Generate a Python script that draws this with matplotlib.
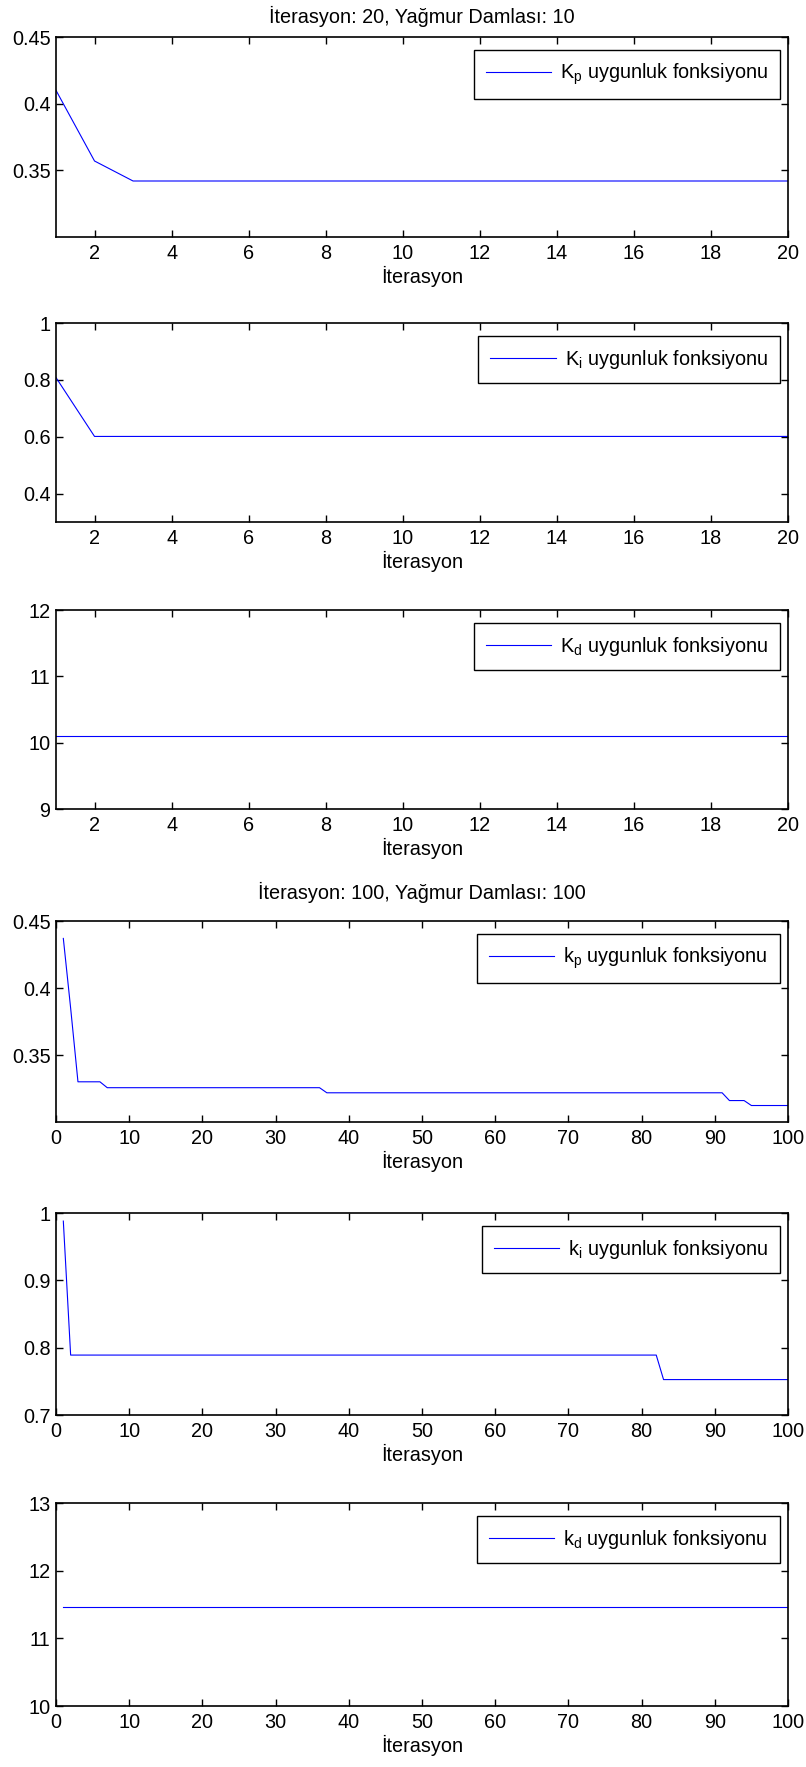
import matplotlib.pyplot as plt
from matplotlib.ticker import FormatStrFormatter

plt.rcParams['font.family'] = ['Liberation Sans', 'DejaVu Sans']
plt.rcParams['mathtext.default'] = 'regular'
plt.rcParams['font.size'] = 14.3

# Iterasyon 20, yagmur damlasi 10 (degerin degistigi noktalar)
x_kp20 = [1, 2, 3, 20]
y_kp20 = [0.410, 0.357, 0.342, 0.342]
x_ki20 = [1, 2, 20]
y_ki20 = [0.808, 0.601, 0.601]
x_kd20 = [1, 20]
y_kd20 = [10.1, 10.1]

# Iterasyon 100, yagmur damlasi 100
x_kp100 = [1, 2, 3, 6, 7, 36, 37, 91, 92, 94, 95, 100]
y_kp100 = [0.437, 0.385, 0.330, 0.330, 0.3256, 0.3256, 0.3218, 0.3218,
           0.316, 0.316, 0.3123, 0.3123]
x_ki100 = [1, 2, 82, 83, 100]
y_ki100 = [0.988, 0.789, 0.789, 0.7526, 0.7526]
x_kd100 = [1, 100]
y_kd100 = [11.47, 11.47]

etiketler = ['K$_p$ uygunluk fonksiyonu', 'K$_i$ uygunluk fonksiyonu',
             'K$_d$ uygunluk fonksiyonu', 'k$_p$ uygunluk fonksiyonu',
             'k$_i$ uygunluk fonksiyonu', 'k$_d$ uygunluk fonksiyonu']
basliklar = ['İterasyon: 20, Yağmur Damlası: 10',
             'İterasyon: 100, Yağmur Damlası: 100']

W, H = 806, 1767
fig = plt.figure(figsize=(W / 100, H / 100), dpi=100)

# eksen kutulari (piksel: ust, alt)
kutular = [(37, 237), (323, 522), (610, 809), (921, 1122), (1213, 1415), (1503, 1706)]
sol, sag = 56, 788

veriler = [(x_kp20, y_kp20), (x_ki20, y_ki20), (x_kd20, y_kd20),
           (x_kp100, y_kp100), (x_ki100, y_ki100), (x_kd100, y_kd100)]
ylimler = [(0.30, 0.45), (0.3, 1.0), (9, 12), (0.30, 0.45), (0.7, 1.0), (10, 13)]
yticks = [[0.35, 0.4, 0.45], [0.4, 0.6, 0.8, 1], [9, 10, 11, 12],
          [0.35, 0.4, 0.45], [0.7, 0.8, 0.9, 1], [10, 11, 12, 13]]

for i, ((ust, alt), (xs, ys)) in enumerate(zip(kutular, veriler)):
    ax = fig.add_axes([sol / W, 1 - alt / H, (sag - sol) / W, (alt - ust) / H])
    ax.plot(xs, ys, color='#0000ff', linewidth=0.8, label=etiketler[i])
    if i < 3:
        ax.set_xlim(1, 20)
        ax.set_xticks(range(2, 21, 2))
    else:
        ax.set_xlim(0, 100)
        ax.set_xticks(range(0, 101, 10))
    ax.set_ylim(*ylimler[i])
    ax.set_yticks(yticks[i])
    ax.yaxis.set_major_formatter(FormatStrFormatter('%g'))
    ax.tick_params(direction='in', top=True, right=True, length=5, width=1)
    ax.tick_params(axis='x', pad=5)
    ax.tick_params(axis='y', pad=4)
    for s in ax.spines.values():
        s.set_linewidth(1.2)
    ax.set_xlabel('İterasyon', labelpad=2)
    leg = ax.legend(loc='upper right', bbox_to_anchor=(1 - 8 / 732, 1 - 13 / 200),
                    borderaxespad=0, fancybox=False, framealpha=1,
                    edgecolor='black', handlelength=3.3, handletextpad=0.45,
                    borderpad=0.6)
    leg.get_frame().set_linewidth(1.0)
    if i == 0:
        ax.set_title(basliklar[0], pad=10, fontsize=14.3)
    if i == 3:
        ax.set_title(basliklar[1], pad=16, fontsize=14.3)

plt.savefig('out.png', dpi=100)
